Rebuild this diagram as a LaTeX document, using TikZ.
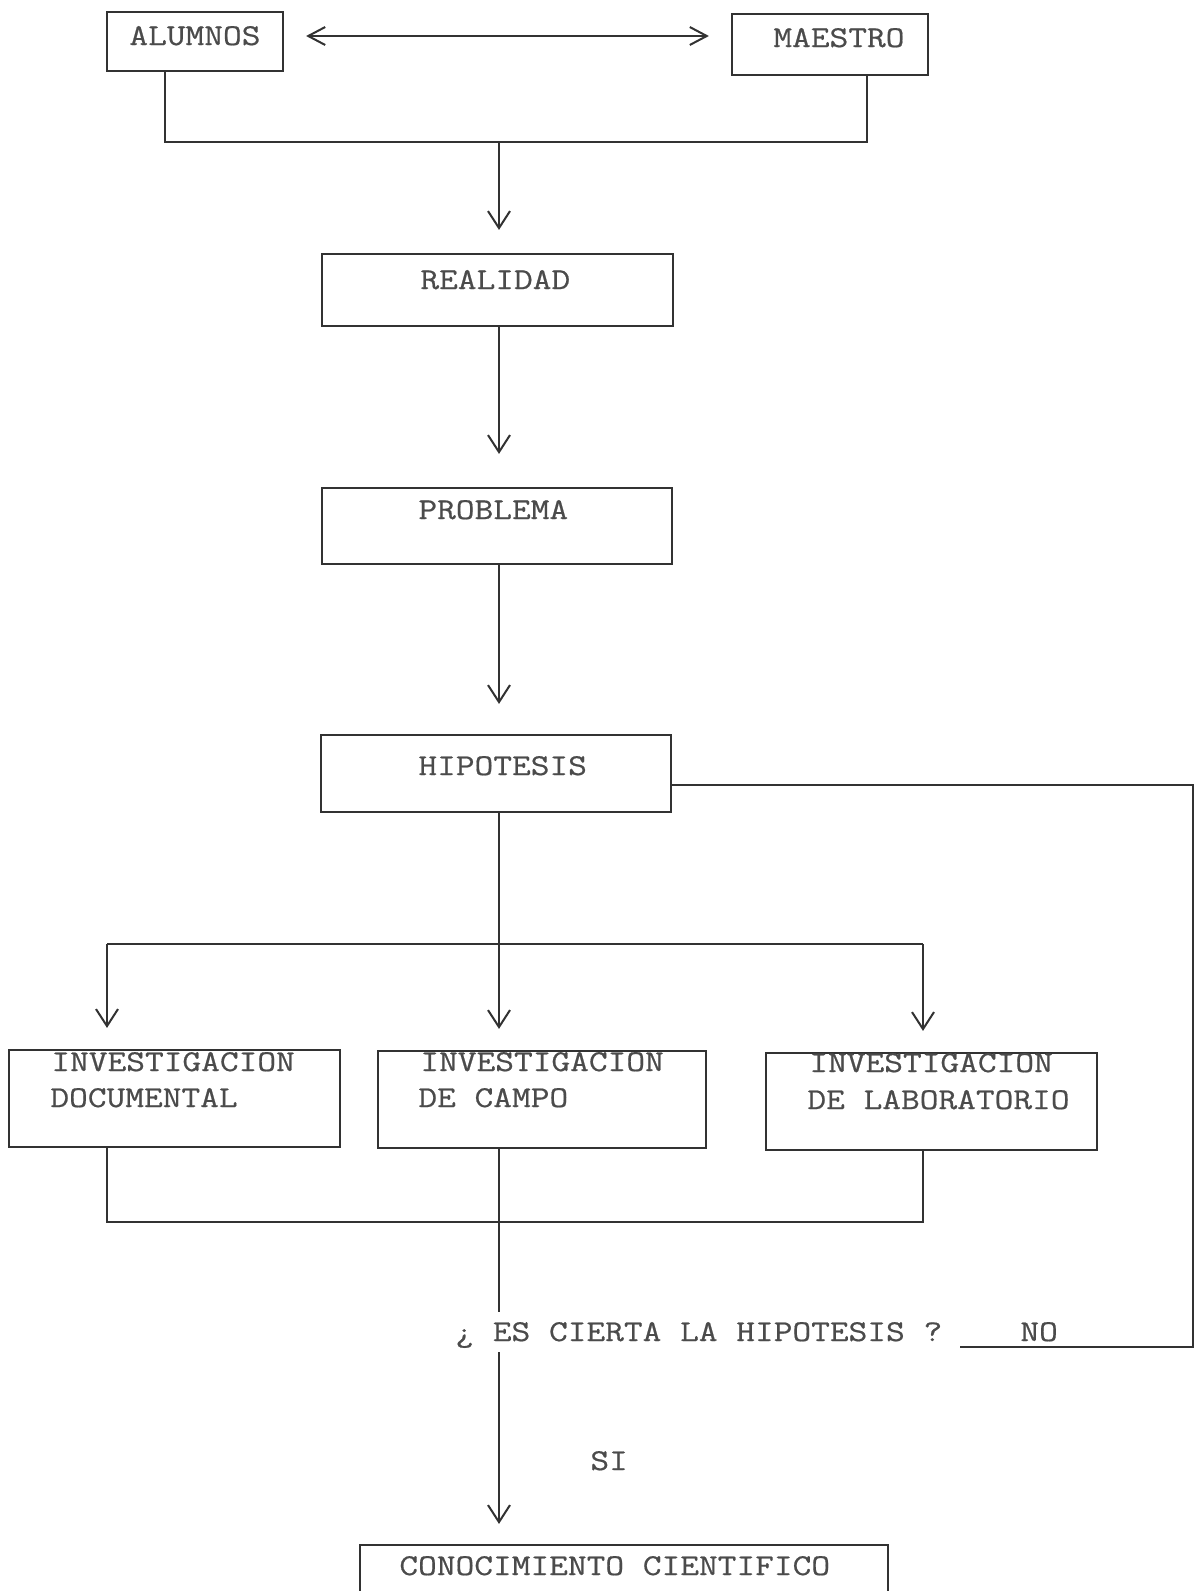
\documentclass[tikz,border=0pt]{standalone}
\usepackage{fontspec}
\setmonofont[FakeStretch=1.2,FakeBold=0.6]{Latin Modern Mono}
\usetikzlibrary{arrows.meta}
\definecolor{ink}{RGB}{50,50,50}
\definecolor{typ}{RGB}{75,75,75}
\begin{document}
\begin{tikzpicture}[x=0.5pt,y=-0.5pt,
  box/.style={draw=ink, line width=1.1pt, rectangle, inner sep=0pt},
  lbl/.style={text=typ, font=\ttfamily\fontsize{15.15pt}{18pt}\selectfont, anchor=base west, inner sep=0pt},
  conn/.style={draw=ink, line width=1pt},
  arr/.style={conn, -{Straight Barb[length=8.5pt,width=11pt]}},
  dbl/.style={conn, {Straight Barb[length=8.5pt,width=9pt]}-{Straight Barb[length=8.5pt,width=9pt]}}
]
\useasboundingbox (0,0) rectangle (1195,1591);
\fill[white] (0,0) rectangle (1195,1591);

% boxes
\node[box, minimum width=88pt,   minimum height=29.5pt] (alum)  at (195,41.5) {};
\node[box, minimum width=98pt,   minimum height=30.5pt] (maes)  at (830,44.5) {};
\node[box, minimum width=175.5pt,minimum height=36pt]   (real)  at (497.5,290) {};
\node[box, minimum width=175pt,  minimum height=38pt]   (prob)  at (497,526) {};
\node[box, minimum width=175pt,  minimum height=38.5pt] (hipo)  at (496,773.5) {};
\node[box, minimum width=165.5pt,minimum height=48.5pt] (doc)   at (174.5,1098.5) {};
\node[box, minimum width=164pt,  minimum height=48.5pt] (campo) at (542,1099.5) {};
\node[box, minimum width=165.5pt,minimum height=48.5pt] (lab)   at (931.5,1101.5) {};
\node[box, minimum width=264pt,  minimum height=47.5pt] (conoc) at (624,1592.5) {};

% texts
\node[lbl] (t1)  at (129,45)   {ALUMNOS};
\node[lbl] (t2)  at (773,47)   {MAESTRO};
\node[lbl] (t3)  at (420,289)  {REALIDAD};
\node[lbl] (t4)  at (418,519)  {PROBLEMA};
\node[lbl] (t5)  at (418,775)  {HIPOTESIS};
\node[lbl] (t6)  at (51,1071)  {INVESTIGACION};
\node[lbl] (t7)  at (50,1107)  {DOCUMENTAL};
\node[lbl] (t8)  at (420,1071) {INVESTIGACION};
\node[lbl] (t9)  at (418,1107) {DE CAMPO};
\node[lbl] (t10) at (809,1072) {INVESTIGACION};
\node[lbl] (t11) at (807,1109) {DE LABORATORIO};
\node[lbl] (q)   at (455,1341) {¿ ES CIERTA LA HIPOTESIS ?};
\node[lbl] (no)  at (1020,1341) {NO};
\node[lbl] (si)  at (590,1470) {SI};
\node[lbl] (t12) at (399,1575) {CONOCIMIENTO CIENTIFICO};

% coordinates
\coordinate (ar) at (0,36);
\coordinate (aL) at (165,142);
\coordinate (mR) at (867,142);
\coordinate (j1) at (499,142);
\coordinate (j2) at (499,944);
\coordinate (dL) at (107,944);
\coordinate (dR) at (923,944);
\coordinate (eL) at (107,1222);
\coordinate (eR) at (923,1222);
\coordinate (q1) at (499,1312);
\coordinate (q2) at (499,1352);
\coordinate (rT) at (1193,785);
\coordinate (rB) at (1193,1347);
\coordinate (nE) at (960,1347);

% connectors
\draw[dbl, shorten <=11pt, shorten >=11pt] (alum.east |- ar) -- (maes.west |- ar);
\draw[conn] (aL |- alum.south) -- (aL) -- (mR) -- (mR |- maes.south);
\draw[arr, shorten >=11.5pt] (j1) -- (j1 |- real.north);
\draw[arr, shorten >=16.5pt] (j1 |- real.south) -- (j1 |- prob.north);
\draw[arr, shorten >=15pt] (j1 |- prob.south) -- (j1 |- hipo.north);
\draw[conn] (j1 |- hipo.south) -- (j2);
\draw[conn] (dL) -- (dR);
\draw[arr, shorten >=10.5pt] (dL) -- (dL |- doc.north);
\draw[arr, shorten >=10.5pt] (j2) -- (j2 |- campo.north);
\draw[arr, shorten >=10.5pt] (dR) -- (dR |- lab.north);
\draw[conn] (eL |- doc.south) -- (eL) -- (eR) -- (eR |- lab.south);
\draw[conn] (j2 |- campo.south) -- (q1);
\draw[arr, shorten >=10pt] (q2) -- (q2 |- conoc.north);
\draw[conn] (hipo.east |- rT) -- (rT) -- (rB) -- (nE);
\end{tikzpicture}
\end{document}
